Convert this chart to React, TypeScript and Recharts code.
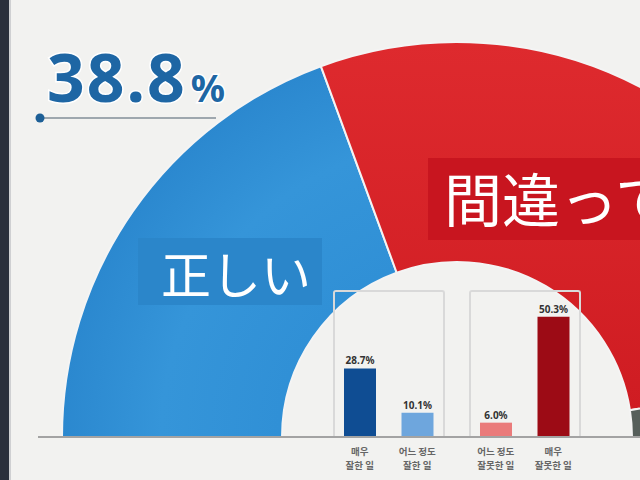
import React from 'react';
import { PieChart, Pie, Cell, BarChart, Bar, XAxis, YAxis, LabelList } from 'recharts';

const pieNames = ['正しい', '間違っている', 'わからない'];
const pieValues = [38.8, 56.3, 4.9];
const pieColors = ['url(#gBlue)', 'url(#gRed)', '#565f5b'];

const goodLabels = [['매우', '잘한 일'], ['어느 정도', '잘한 일']];
const goodValues = [28.7, 10.1];
const goodColors = ['#0f4d93', '#6ea6dd'];

const badLabels = [['어느 정도', '잘못한 일'], ['매우', '잘못한 일']];
const badValues = [6.0, 50.3];
const badColors = ['#ea7b7b', '#9c0b15'];

const pieData = pieNames.map((name, i) => ({ name, value: pieValues[i] }));
const goodData = goodLabels.map((l, i) => ({ name: l.join('\n'), value: goodValues[i] }));
const badData = badLabels.map((l, i) => ({ name: l.join('\n'), value: badValues[i] }));

const TwoLineTick = (props: any) => {
  const { x, y, payload } = props;
  const lines = String(payload.value).split('\n');
  return (
    <g transform={`translate(${x},${y})`}>
      {lines.map((t, i) => (
        <text key={i} x={0} y={10 + i * 14} textAnchor="middle" fontSize={9.5} fontWeight={700}
          fill="#666" fontFamily="'Noto Sans CJK KR', sans-serif">{t}</text>
      ))}
    </g>
  );
};

const SmallBars = ({ data, colors }: { data: any[]; colors: string[] }) => (
  <BarChart width={115} height={189} data={data} margin={{ top: 0, right: 0, bottom: 0, left: 0 }}>
    <XAxis dataKey="name" axisLine={false} tickLine={false} interval={0} height={42} tick={<TwoLineTick />} />
    <YAxis hide domain={[0, 61.5]} />
    <Bar dataKey="value" barSize={32} isAnimationActive={false}>
      {data.map((_, i) => <Cell key={i} fill={colors[i]} />)}
      <LabelList dataKey="value" position="top" offset={4}
        formatter={(v: any) => `${Number(v).toFixed(1)}%`}
        style={{ fontSize: 10, fontWeight: 700, fill: '#333', fontFamily: 'Noto Sans, sans-serif' }} />
    </Bar>
  </BarChart>
);

const frame = (left: number): React.CSSProperties => ({
  position: 'absolute', left, top: 290, width: 112, height: 147,
  borderLeft: '2px solid #d9d9d9', borderTop: '2px solid #d9d9d9', borderRight: '2px solid #d9d9d9',
  borderRadius: '3px 3px 0 0', boxSizing: 'border-box',
});

export default function App() {
  return (
    <div style={{ position: 'fixed', left: 0, top: 0, width: 640, height: 480, overflow: 'hidden', background: '#f2f2f0' }}>
      <div style={{ position: 'absolute', left: 0, top: 0 }}>
        <PieChart width={640} height={480} margin={{ top: 0, right: 0, bottom: 0, left: 0 }}>
          <defs>
            <radialGradient id="gBlue" cx="457" cy="437" r="395" gradientUnits="userSpaceOnUse">
              <stop offset="0.45" stopColor="#3090d6" />
              <stop offset="0.75" stopColor="#3595d9" />
              <stop offset="1" stopColor="#2b88cf" />
            </radialGradient>
            <linearGradient id="gRed" x1="0" y1="0" x2="0" y2="1">
              <stop offset="0" stopColor="#de2a2e" />
              <stop offset="1" stopColor="#cf1c22" />
            </linearGradient>
          </defs>
          <Pie data={pieData} dataKey="value" nameKey="name" cx={457} cy={437}
            innerRadius={175} outerRadius={395} startAngle={180} endAngle={0}
            stroke="#f4f4f4" strokeWidth={2} isAnimationActive={false}>
            {pieData.map((_, i) => <Cell key={i} fill={pieColors[i]} />)}
          </Pie>
        </PieChart>
      </div>
      <div style={frame(333)} />
      <div style={frame(469)} />
      <div style={{ position: 'absolute', left: 331, top: 290 }}>
        <SmallBars data={goodData} colors={goodColors} />
      </div>
      <div style={{ position: 'absolute', left: 467, top: 290 }}>
        <SmallBars data={badData} colors={badColors} />
      </div>
      <div style={{ position: 'absolute', left: 38, top: 436, width: 602, height: 2, background: '#a3a3a3' }} />
      <svg width={640} height={480} style={{ position: 'absolute', left: 0, top: 0, pointerEvents: 'none' }}>
        <rect x={0} y={0} width={9} height={480} fill="#2a2f3b" />
        <rect x={9} y={0} width={2} height={480} fill="#cfd0d2" />
        <rect x={138} y={238} width={184} height={67} fill="#2b86ca" />
        <text x={161} y={272} dominantBaseline="central" fontSize={50} fill="#fff"
          fontFamily="'Noto Sans CJK JP', sans-serif">{pieNames[0]}</text>
        <rect x={428} y={158} width={230} height={82} fill="#c8151f" />
        <text x={444} y={197} dominantBaseline="central" fontSize={58} fill="#fff"
          fontFamily="'Noto Sans CJK JP', sans-serif">{pieNames[1]}</text>
        <line x1={40} y1={118} x2={216} y2={118} stroke="#9ea7ae" strokeWidth={2} />
        <circle cx={40} cy={118} r={4.5} fill="#1d5f96" />
        <text x={47} y={102} fontSize={66} fontWeight={700} fill="#1e66a4" stroke="#ffffff"
          strokeWidth={3} paintOrder="stroke" letterSpacing={2} fontFamily="'Noto Sans', sans-serif">
          {pieValues[0].toFixed(1)}
          <tspan fontSize={38} dx={4}>%</tspan>
        </text>
      </svg>
    </div>
  );
}
